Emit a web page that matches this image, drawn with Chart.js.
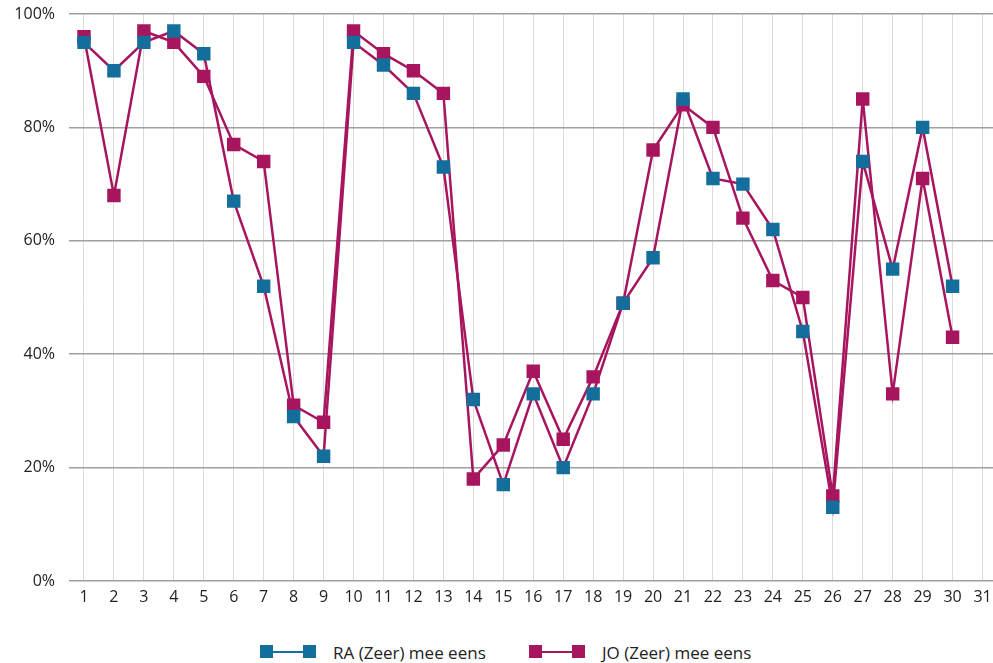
<!DOCTYPE html>
<html>
<head>
<meta charset="utf-8">
<script src="https://cdn.jsdelivr.net/npm/chart.js@4/dist/chart.umd.min.js"></script>
<style>
  html, body { margin: 0; padding: 0; background: #fff; overflow: hidden; }
  #wrap { position: relative; width: 1007px; height: 663px; }
  #chart { position: absolute; left: 0; top: 0; }
  .legend { position: absolute; top: 641px; font-family: "Open Sans", Lato, sans-serif; font-size: 17px; color: #222; display: flex; align-items: center; height: 22px; }
  .sym { position: relative; width: 56px; height: 14px; margin-right: 17px; }
  .sym .sq { position: absolute; top: 0; width: 13px; height: 13px; }
  .sym .ln { position: absolute; top: 6px; left: 6px; width: 44px; height: 2px; }
</style>
</head>
<body>
<div id="wrap">
  <canvas id="chart" width="1007" height="616"></canvas>
  <div class="legend" style="left:260px">
    <div class="sym"><div class="ln" style="background:#136e9c"></div><div class="sq" style="left:0;background:#136e9c"></div><div class="sq" style="left:43px;background:#136e9c"></div></div>
    <span>RA (Zeer) mee eens</span>
  </div>
  <div class="legend" style="left:529px">
    <div class="sym"><div class="ln" style="background:#a8155f"></div><div class="sq" style="left:0;background:#a8155f"></div><div class="sq" style="left:43px;background:#a8155f"></div></div>
    <span>JO (Zeer) mee eens</span>
  </div>
</div>
<script>
const categories = ["1","2","3","4","5","6","7","8","9","10","11","12","13","14","15","16","17","18","19","20","21","22","23","24","25","26","27","28","29","30","31"];
const raValues = [95, 90, 95, 97, 93, 67, 52, 29, 22, 95, 91, 86, 73, 32, 17, 33, 20, 33, 49, 57, 85, 71, 70, 62, 44, 13, 74, 55, 80, 52, null];
const joValues = [96, 68, 97, 95, 89, 77, 74, 31, 28, 97, 93, 90, 86, 18, 24, 37, 25, 36, 49, 76, 84, 80, 64, 53, 50, 15, 85, 33, 71, 43, null];
const yTicks = [0, 20, 40, 60, 80, 100];

const BLUE = '#136e9c';
const MAGENTA = '#a8155f';
const FONT = '"Open Sans", Lato, sans-serif';

new Chart(document.getElementById('chart'), {
  type: 'line',
  data: {
    labels: categories,
    datasets: [
      {
        label: 'RA (Zeer) mee eens',
        data: raValues,
        borderColor: MAGENTA,
        backgroundColor: BLUE,
        pointBackgroundColor: BLUE,
        pointBorderWidth: 0,
        pointStyle: 'rect',
        pointRadius: 9.5,
        borderWidth: 2.5,
        tension: 0
      },
      {
        label: 'JO (Zeer) mee eens',
        data: joValues,
        borderColor: MAGENTA,
        backgroundColor: MAGENTA,
        pointBackgroundColor: MAGENTA,
        pointBorderWidth: 0,
        pointStyle: 'rect',
        pointRadius: 9.5,
        borderWidth: 2.5,
        tension: 0
      }
    ]
  },
  options: {
    responsive: false,
    animation: false,
    layout: { padding: { top: 14, right: 0, left: 0, bottom: 0 } },
    plugins: { legend: { display: false }, tooltip: { enabled: false } },
    scales: {
      x: {
        offset: true,
        grid: { offset: false, color: '#dedad7', lineWidth: 1, drawTicks: false },
        border: { display: false },
        ticks: { color: '#222', font: { family: FONT, size: 16 }, padding: 7, maxRotation: 0, autoSkip: false },
        afterFit: (s) => { s.height = 35; }
      },
      y: {
        min: 0, max: 100,
        afterBuildTicks: (s) => { s.ticks = yTicks.map(v => ({ value: v })); },
        grid: { color: '#a0a0a0', lineWidth: 1.5, drawTicks: false },
        border: { display: false },
        ticks: { color: '#222', font: { family: FONT, size: 16 }, padding: 14, callback: (v) => v + '%' },
        afterFit: (s) => { s.width = 69; s.paddingTop = 0; s.paddingBottom = 0; }
      }
    }
  }
});
</script>
</body>
</html>
